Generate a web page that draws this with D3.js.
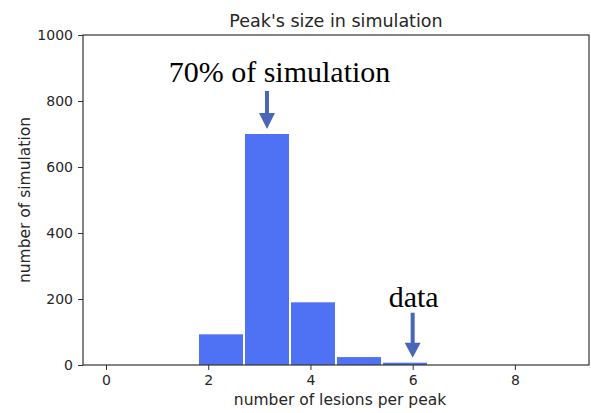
<!DOCTYPE html>
<html><head><meta charset="utf-8">
<script src="https://cdn.jsdelivr.net/npm/d3@7"></script>
<style>body{margin:0;background:#fff}</style>
</head><body>
<svg id="c" width="591" height="413"></svg>
<script>
const binEdges = [0, 0.9, 1.8, 2.7, 3.6, 4.5, 5.4, 6.3, 7.2, 8.1, 9.0];
const counts = [0, 0, 93, 700, 190, 24, 7, 0, 0, 0];
const xTicks = [0, 2, 4, 6, 8];
const yTicks = [0, 200, 400, 600, 800, 1000];
const annotations = [
  {text: "70% of simulation", x: 3.15, y: 700},
  {text: "data", x: 6.0, y: 7}
];

const svg = d3.select("#c");
const m = {l: 83, t: 35, r: 589, b: 365};
const x = d3.scaleLinear().domain([-0.45, 9.45]).range([m.l, m.r]);
const y = d3.scaleLinear().domain([0, 1000]).range([m.b, m.t]);
const font = "DejaVu Sans, Verdana, sans-serif";
const textColor = "#262626";

const bins = counts.map((c, i) => ({x0: binEdges[i], x1: binEdges[i+1], c}));
svg.append("g").selectAll("rect").data(bins.filter(d => d.c > 0)).join("rect")
  .attr("x", d => x(d.x0) + 1)
  .attr("width", d => x(d.x1) - x(d.x0) - 2)
  .attr("y", d => y(d.c))
  .attr("height", d => y(0) - y(d.c))
  .attr("fill", "#4f72f5");

// frame
svg.append("rect").attr("x", m.l).attr("y", m.t).attr("width", m.r - m.l).attr("height", m.b - m.t)
  .attr("fill", "none").attr("stroke", "#333").attr("stroke-width", 1.2);

const xa = svg.append("g").attr("transform", `translate(0,${m.b})`)
  .call(d3.axisBottom(x).tickValues(xTicks).tickSize(5).tickPadding(5).tickFormat(d3.format("d")));
const ya = svg.append("g").attr("transform", `translate(${m.l},0)`)
  .call(d3.axisLeft(y).tickValues(yTicks).tickSize(5).tickPadding(5).tickFormat(d3.format("d")));
[xa, ya].forEach(a => {
  a.select(".domain").remove();
  a.selectAll("line").attr("stroke", "#333");
  a.selectAll("text").attr("font-family", font).attr("font-size", 14).attr("fill", textColor);
});

svg.append("text").attr("x", (m.l + m.r) / 2).attr("y", 27).attr("text-anchor", "middle")
  .attr("font-family", font).attr("font-size", 17.5).attr("fill", textColor).text("Peak's size in simulation");
svg.append("text").attr("x", (m.l + m.r) / 2 + 4).attr("y", 405).attr("text-anchor", "middle")
  .attr("font-family", font).attr("font-size", 15.5).attr("fill", textColor).text("number of lesions per peak");
svg.append("text").attr("transform", `translate(30,${(m.t + m.b) / 2}) rotate(-90)`).attr("text-anchor", "middle")
  .attr("font-family", font).attr("font-size", 15.5).attr("fill", textColor).text("number of simulation");

// annotations
const arrowColor = "#4a66b8";
annotations.forEach((a, i) => {
  const ax = x(a.x), tip = y(a.y) - 5;
  const len = i === 0 ? 38 : 45;
  const headL = i === 0 ? 16 : 15;
  svg.append("rect").attr("x", ax - 2).attr("y", tip - len).attr("width", 4).attr("height", len - headL + 1).attr("fill", arrowColor);
  svg.append("path").attr("d", `M${ax-8},${tip-headL} L${ax+8},${tip-headL} L${ax},${tip} Z`).attr("fill", arrowColor);
  svg.append("text").attr("x", i === 0 ? 279.5 : ax + 1).attr("y", i === 0 ? 82 : 307).attr("text-anchor", "middle")
    .attr("font-family", "Liberation Serif, Times New Roman, serif").attr("font-size", 30).attr("fill", "#000").text(a.text);
});
</script>
</body></html>
